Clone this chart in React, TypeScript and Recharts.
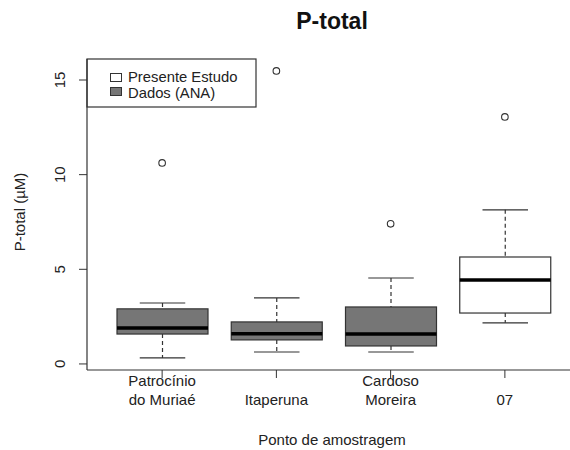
import React from "react";
import { ComposedChart, Bar, Scatter, XAxis, YAxis, Customized } from "recharts";

const categories = ["Patrocínio\ndo Muriaé", "Itaperuna", "Cardoso\nMoreira", "07"];
const lowerWhisker = [0.32, 0.63, 0.63, 2.17];
const q1Values = [1.58, 1.27, 0.95, 2.69];
const medianValues = [1.9, 1.6, 1.58, 4.43];
const q3Values = [2.91, 2.22, 3.01, 5.65];
const upperWhisker = [3.22, 3.49, 4.54, 8.14];
const outlierValues = [10.62, 15.48, 7.4, 13.05];
const groups = ["ANA", "ANA", "ANA", "Presente"];
const yTicks = [0, 5, 10, 15];

const FONT = '"Liberation Sans", Arial, sans-serif';
const TEXT = "#222";
const LINE = "#333";
const GRAY = "#767676";

const data = categories.map((name, i) => ({
  name,
  box: [q1Values[i], q3Values[i]],
  up: [q3Values[i], upperWhisker[i]],
  low: [lowerWhisker[i], q1Values[i]],
  q1: q1Values[i],
  med: medianValues[i],
  q3: q3Values[i],
  outlier: outlierValues[i],
  group: groups[i],
}));

const BoxShape = (props: any) => {
  const { x, y, width, height, payload } = props;
  const p = payload;
  const medY = y + ((p.q3 - p.med) / (p.q3 - p.q1)) * height;
  return (
    <g>
      <rect x={x} y={y} width={width} height={height} fill={p.group === "ANA" ? GRAY : "#fff"} stroke={LINE} strokeWidth={1.2} />
      <line x1={x} x2={x + width} y1={medY} y2={medY} stroke="#000" strokeWidth={3.5} />
    </g>
  );
};

const UpperShape = (props: any) => {
  const { x, y, width, height } = props;
  const cx = x + width / 2;
  return (
    <g>
      <line x1={cx} x2={cx} y1={y} y2={y + height} stroke={LINE} strokeWidth={1.2} strokeDasharray="4 3" />
      <line x1={cx - width / 4} x2={cx + width / 4} y1={y} y2={y} stroke={LINE} strokeWidth={1.2} />
    </g>
  );
};

const LowerShape = (props: any) => {
  const { x, y, width, height } = props;
  const cx = x + width / 2;
  return (
    <g>
      <line x1={cx} x2={cx} y1={y} y2={y + height} stroke={LINE} strokeWidth={1.2} strokeDasharray="4 3" />
      <line x1={cx - width / 4} x2={cx + width / 4} y1={y + height} y2={y + height} stroke={LINE} strokeWidth={1.2} />
    </g>
  );
};

const OutlierShape = (props: any) => {
  const { cx, cy } = props;
  return <circle cx={cx} cy={cy} r={3.3} fill="#fff" stroke={LINE} strokeWidth={1.1} />;
};

const XTick = (props: any) => {
  const { x, y, payload } = props;
  const lines = String(payload.value).split("\n");
  const base = lines.length === 1 ? [25] : [6, 25];
  return (
    <g>
      {lines.map((l, i) => (
        <text key={i} x={x} y={y + base[i]} textAnchor="middle" fontFamily={FONT} fontSize={15} fill={TEXT}>
          {l}
        </text>
      ))}
    </g>
  );
};

const YTick = (props: any) => {
  const { x, y, payload } = props;
  const tx = x - 17;
  return (
    <text x={tx} y={y} transform={`rotate(-90 ${tx} ${y})`} textAnchor="middle" dominantBaseline="central" fontFamily={FONT} fontSize={15} fill={TEXT}>
      {payload.value}
    </text>
  );
};

const Decorations = () => (
  <g fontFamily={FONT}>
    <text x={332} y={29} textAnchor="middle" fontWeight="bold" fontSize={23} fill="#111">P-total</text>
    <text x={19} y={212} transform="rotate(-90 19 212)" textAnchor="middle" dominantBaseline="central" fontSize={15} fill={TEXT}>
      P-total (µM)
    </text>
    <text x={332} y={445} textAnchor="middle" fontSize={15} fill={TEXT}>Ponto de amostragem</text>
    <rect x={87} y={59} width={169} height={48} fill="#fff" stroke={LINE} strokeWidth={1.2} />
    <rect x={110.5} y={73.5} width={11} height={8} fill="#fff" stroke={LINE} strokeWidth={1} />
    <rect x={110.5} y={87.5} width={11} height={8} fill={GRAY} stroke={LINE} strokeWidth={1} />
    <text x={128} y={81.5} fontSize={14.8} fill={TEXT}>Presente Estudo</text>
    <text x={128} y={98} fontSize={14.8} fill={TEXT}>Dados (ANA)</text>
  </g>
);

export default function App() {
  return (
    <div style={{ position: "absolute", left: 0, top: 0, width: 570, height: 450, overflow: "hidden", background: "#fff" }}>
      <ComposedChart width={580} height={450} data={data} margin={{ top: 59, right: 0, bottom: 0, left: 0 }} barGap={-91}>
        <XAxis
          dataKey="name"
          type="category"
          height={80}
          padding={{ left: 18, right: 18 }}
          tickSize={8}
          tickLine={{ stroke: LINE }}
          axisLine={{ stroke: LINE, strokeWidth: 1.2 }}
          tick={<XTick />}
          interval={0}
        />
        <XAxis xAxisId="top" dataKey="name" orientation="top" height={0} tick={false} tickLine={false} axisLine={{ stroke: LINE, strokeWidth: 1.2 }} />
        <YAxis
          type="number"
          domain={[-0.32, 16.11]}
          ticks={yTicks}
          allowDataOverflow
          width={87}
          tickSize={8}
          tickLine={{ stroke: LINE }}
          axisLine={{ stroke: LINE, strokeWidth: 1.2 }}
          tick={<YTick />}
        />
        <Bar dataKey="up" barSize={91} shape={<UpperShape />} isAnimationActive={false} />
        <Bar dataKey="low" barSize={91} shape={<LowerShape />} isAnimationActive={false} />
        <Bar dataKey="box" barSize={91} shape={<BoxShape />} isAnimationActive={false} />
        <Scatter dataKey="outlier" shape={<OutlierShape />} isAnimationActive={false} />
        <Customized component={Decorations} />
      </ComposedChart>
    </div>
  );
}
